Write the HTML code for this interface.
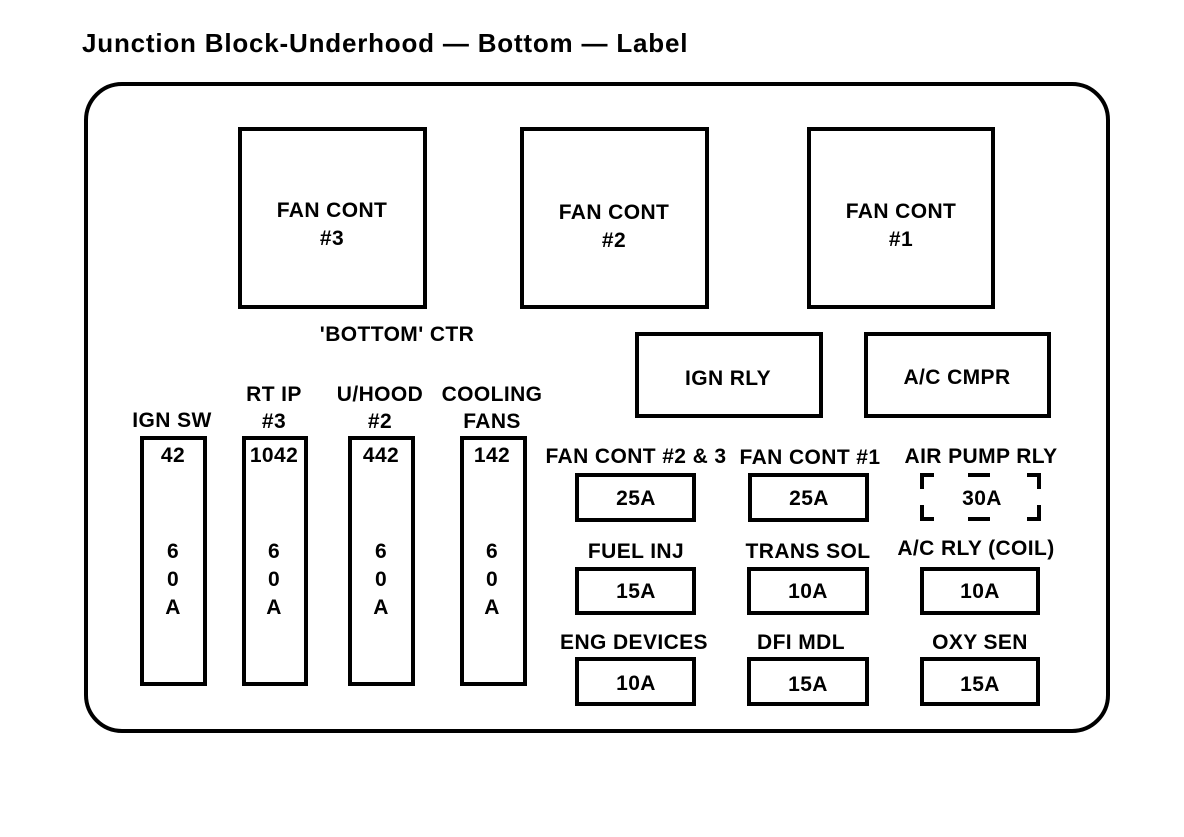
<!DOCTYPE html>
<html><head><style>
body{margin:0;background:#fff;width:1184px;height:832px;overflow:hidden}
svg text{font-family:"Liberation Sans",Arial,sans-serif;font-weight:bold;fill:#000;text-anchor:middle;letter-spacing:0.4px}
</style></head><body>
<svg width="1184" height="832" viewBox="0 0 1184 832">
<text x="82" y="52" style="text-anchor:start;font-size:26px;letter-spacing:0.8px">Junction Block-Underhood — Bottom — Label</text>
<g fill="none" stroke="#000" stroke-width="4">
<rect x="86" y="84" width="1022" height="647" rx="36"/>
<rect x="240" y="129" width="185" height="178"/>
<rect x="522" y="129" width="185" height="178"/>
<rect x="809" y="129" width="184" height="178"/>
<rect x="637" y="334" width="184" height="82"/>
<rect x="866" y="334" width="183" height="82"/>
<rect x="142" y="438" width="63" height="246"/>
<rect x="244" y="438" width="62" height="246"/>
<rect x="350" y="438" width="63" height="246"/>
<rect x="462" y="438" width="63" height="246"/>
<rect x="577" y="475" width="117" height="45"/>
<rect x="750" y="475" width="117" height="45"/>
<rect x="577" y="569" width="117" height="44"/>
<rect x="749" y="569" width="118" height="44"/>
<rect x="922" y="569" width="116" height="44"/>
<rect x="577" y="659" width="117" height="45"/>
<rect x="749" y="659" width="118" height="45"/>
<rect x="922" y="659" width="116" height="45"/>
<path d="M922 489V475h12M1027 475h12v14M922 505v14h12M1027 519h12v-14M968 475h22M968 519h22"/>
</g>
<g font-size="21">
<text x="332" y="217">FAN CONT</text><text x="332" y="245">#3</text>
<text x="614" y="219">FAN CONT</text><text x="614" y="247">#2</text>
<text x="901" y="218">FAN CONT</text><text x="901" y="246">#1</text>
<text x="397" y="341">'BOTTOM'  CTR</text>
<text x="728" y="385">IGN RLY</text>
<text x="957" y="384">A/C CMPR</text>
<text x="172" y="427">IGN SW</text>
<text x="274" y="401">RT IP</text><text x="274" y="428">#3</text>
<text x="380" y="401">U/HOOD</text><text x="380" y="428">#2</text>
<text x="492" y="401">COOLING</text><text x="492" y="428">FANS</text>
<text x="173" y="462">42</text><text x="274" y="462">1042</text><text x="381" y="462">442</text><text x="492" y="462">142</text>
<text x="173" y="558">6</text><text x="173" y="586">0</text><text x="173" y="614">A</text>
<text x="274" y="558">6</text><text x="274" y="586">0</text><text x="274" y="614">A</text>
<text x="381" y="558">6</text><text x="381" y="586">0</text><text x="381" y="614">A</text>
<text x="492" y="558">6</text><text x="492" y="586">0</text><text x="492" y="614">A</text>
<text x="636" y="463">FAN CONT #2 &amp; 3</text>
<text x="810" y="464">FAN CONT #1</text>
<text x="981" y="463">AIR PUMP RLY</text>
<text x="636" y="505">25A</text><text x="809" y="505">25A</text><text x="982" y="505">30A</text>
<text x="636" y="558">FUEL INJ</text><text x="808" y="558">TRANS SOL</text><text x="976" y="555">A/C RLY (COIL)</text>
<text x="636" y="598">15A</text><text x="808" y="598">10A</text><text x="980" y="598">10A</text>
<text x="634" y="649">ENG DEVICES</text><text x="801" y="649">DFI MDL</text><text x="980" y="649">OXY SEN</text>
<text x="636" y="690">10A</text><text x="808" y="691">15A</text><text x="980" y="691">15A</text>
</g>
</svg>
</body></html>
